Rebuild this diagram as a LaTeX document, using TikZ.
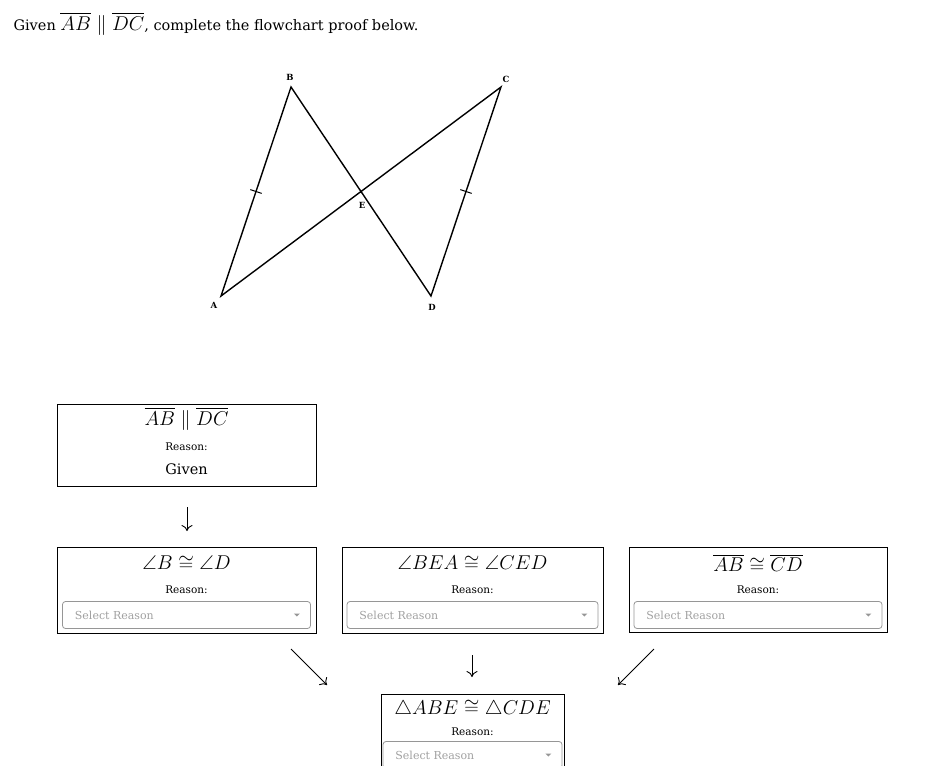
\RequirePackage{fix-cm}
\documentclass[tikz,border=0pt]{standalone}
\usepackage{fontspec}
\setmainfont{DejaVu Serif}
\usepackage{amsmath, amssymb}
\usetikzlibrary{positioning, arrows.meta, calc}
\definecolor{hintgray}{RGB}{160,160,160}
\definecolor{framegray}{RGB}{150,150,150}
\newcommand{\bigmath}[1]{{\fontsize{20}{22}\selectfont$#1$}}

\begin{document}
\begin{tikzpicture}[x=1pt, y=-1pt, line width=1pt,
    stmt/.style={draw, black, line width=0.9pt, inner sep=0pt},
    claim/.style={font=\fontsize{20}{23}\selectfont, inner sep=0pt},
    reason/.style={font=\fontsize{10.5}{12}\selectfont, inner sep=0pt},
    pick/.style={draw=framegray, rounded corners=3pt, line width=0.8pt, inner sep=0pt,
            minimum height=27pt},
    hint/.style={text=hintgray, font=\fontsize{11}{13}\selectfont, anchor=west},
    vlabel/.style={font=\bfseries\fontsize{8.5}{9}\selectfont, inner sep=1pt},
    flow/.style={-{To[length=6pt, width=11pt]}, line width=0.9pt}]

    \useasboundingbox (0,0) rectangle (943,766);
    \clip (0,0) rectangle (943,766);

    % title
    \node[anchor=base west, font=\fontsize{14.5}{18}\selectfont, inner sep=0pt] (title) at (13,30)
        {Given \bigmath{\overline{AB}\parallel\overline{DC}}, complete the flowchart proof below.};

    % figure
    \coordinate (A) at (221,296);
    \coordinate (B) at (291,87);
    \coordinate (C) at (501,87);
    \coordinate (D) at (431,296);
    \coordinate (E) at (360,191);
    \draw[line width=1.4pt] (A) -- (B) -- (D) -- (C) -- cycle;
    \draw ($(A)!0.5!(B)!6pt!90:(B)$) -- ($(A)!0.5!(B)!6pt!-90:(B)$);
    \draw ($(D)!0.5!(C)!6pt!90:(C)$) -- ($(D)!0.5!(C)!6pt!-90:(C)$);
    \node[vlabel] (lA) at (214,305) {A};
    \node[vlabel] (lB) at (290,77) {B};
    \node[vlabel] (lC) at (506,79) {C};
    \node[vlabel] (lD) at (432,307) {D};
    \node[vlabel] (lE) at (362,205) {E};

    % boxes
    \node[stmt, minimum width=259pt, minimum height=82pt] (given) at (186.5,445) {};
    \node[stmt, minimum width=259pt, minimum height=86pt] (angB) at (186.5,590) {};
    \node[stmt, minimum width=261pt, minimum height=86pt] (vert) at (472.5,590) {};
    \node[stmt, minimum width=258pt, minimum height=85pt] (sides) at (758,589.5) {};
    \node[stmt, minimum width=183pt, minimum height=100pt, anchor=north] (tri) at (472.5,694) {};

    \node[claim] (c1) at (186.5,419) {$\overline{AB}\parallel\overline{DC}$};
    \node[reason] (r1) at (186.5,447) {Reason:};
    \node[font=\fontsize{14.5}{17}\selectfont] (g1) at (186.5,469) {Given};

    \node[claim] (c2) at (186.5,563) {$\angle B\cong\angle D$};
    \node[claim] (c3) at (472.5,563) {$\angle BEA\cong\angle CED$};
    \node[claim] (c4) at (758,563) {$\overline{AB}\cong\overline{CD}$};
    \node[claim] (c5) at (472.5,709) {$\triangle ABE\cong\triangle CDE$};

    \foreach \n/\x/\y in {r2/186.5/590, r3/472.5/590, r4/758/590, r5/472.5/732}
        \node[reason] (\n) at (\x,\y) {Reason:};

    \foreach \n/\x/\w/\y in {p2/186.5/248/615, p3/472.5/251/615, p4/758/248/615, p5/472.5/179/755}
    {
        \node[pick, minimum width=\w pt] (\n) at (\x,\y) {};
        \node[hint] at ([xshift=9pt]\n.west) {Select Reason};
        \fill[framegray] ([xshift=-17pt, yshift=1.5pt]\n.east) -- ++(6pt,0) -- ++(-3pt,-3pt) -- cycle;
    }

    % arrows
    \coordinate (a1s) at (187,507);
    \coordinate (a1e) at (187,531);
    \coordinate (a2s) at (291,649);
    \coordinate (a2e) at (327,685);
    \coordinate (a3s) at (472,655);
    \coordinate (a3e) at (472,677);
    \coordinate (a4s) at (654,649);
    \coordinate (a4e) at (618,685);
    \draw[flow] (a1s) -- (a1e);
    \draw[flow] (a2s) -- (a2e);
    \draw[flow] (a3s) -- (a3e);
    \draw[flow] (a4s) -- (a4e);
\end{tikzpicture}
\end{document}
